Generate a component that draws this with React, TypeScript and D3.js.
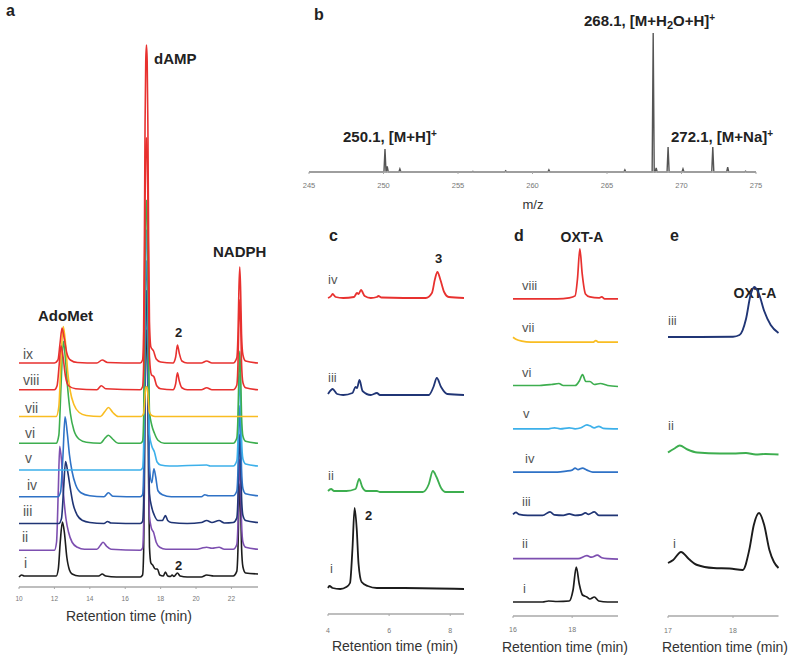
import React from 'react';
import * as d3 from 'd3';

type Pt = [number, number];

const FONT = "'Liberation Sans', Arial, Helvetica, sans-serif";

const C = {
  black: '#1c1c1c',
  purple: '#7d4fb0',
  navy: '#203575',
  blue: '#2f72c6',
  lblue: '#3cb0ea',
  green: '#3dae4f',
  yellow: '#f9bd22',
  red: '#e8312f',
};

// ---------- Panel a : HPLC traces i..ix ----------
const aTicks = [10, 12, 14, 16, 18, 20, 22];
const aLabels = ['i', 'ii', 'iii', 'iv', 'v', 'vi', 'vii', 'viii', 'ix'];
const aColors = [C.black, C.purple, C.navy, C.blue, C.lblue, C.green, C.yellow, C.red, C.red];

const aI: Pt[] = [[10,0],[10.15,2],[10.3,1],[12.1,1],[12.22,8],[12.33,35],[12.45,55],[12.56,45],[12.7,20],[12.85,7],[13.0,3],[13.4,1],[14.5,1],[14.7,3],[14.9,1],[15.5,0],[16.85,0],[16.98,2],[17.04,25],[17.08,86],[17.12,185],[17.16,235],[17.2,247],[17.24,235],[17.28,185],[17.32,99],[17.37,30],[17.45,14],[17.55,12],[17.7,8],[17.82,8],[17.95,2],[18.15,1],[18.27,5],[18.4,1],[18.55,0.5],[18.65,2],[18.75,0.5],[18.95,4],[19.1,1],[19.5,0],[20.3,0],[20.6,2],[21.0,1],[22.1,1],[22.3,5.6],[22.37,29],[22.42,70],[22.47,93],[22.52,70],[22.57,30],[22.65,10],[22.8,4],[23.5,3]];
const aII: Pt[] = [[10,0],[12.0,0],[12.12,8],[12.22,60],[12.3,104],[12.4,90],[12.52,55],[12.65,32],[12.8,18],[13.0,8],[13.3,3],[13.7,1],[14.4,1],[14.6,5],[14.75,8],[14.95,4],[15.2,1],[16.85,0],[16.98,2],[17.04,25],[17.08,87],[17.12,186],[17.16,236],[17.2,248],[17.24,236],[17.28,186],[17.32,99],[17.37,34],[17.48,22],[17.6,18],[17.75,8],[17.95,3],[18.3,1],[20.0,1],[20.3,2],[20.6,3],[20.9,2],[21.3,3],[21.6,1],[22.1,1],[22.3,5.5],[22.37,28],[22.42,68],[22.47,91],[22.52,68],[22.57,28],[22.65,8],[22.8,3],[23.5,1]];
const aIII: Pt[] = [[10,0],[12.25,0],[12.4,5],[12.52,35],[12.63,62],[12.75,52],[12.9,35],[13.05,20],[13.3,8],[13.6,3],[14.0,1],[14.8,0],[15.0,2],[15.2,0.5],[16.85,0],[16.98,2],[17.04,23],[17.08,82],[17.12,175],[17.16,221],[17.2,233],[17.24,221],[17.28,175],[17.32,93],[17.37,30],[17.5,16],[17.65,8],[17.85,3],[18.1,3],[18.27,8],[18.4,3],[18.6,1],[19.5,0],[20.3,1],[20.6,3],[20.9,1],[21.3,3],[21.6,0.5],[22.1,1],[22.3,5.4],[22.37,27],[22.42,67],[22.47,89],[22.52,67],[22.57,27],[22.65,8],[22.8,3],[23.5,1]];
const aIV: Pt[] = [[10,0],[12.2,0],[12.35,5],[12.48,40],[12.6,80],[12.72,65],[12.85,42],[13.0,25],[13.2,12],[13.5,4],[14.0,1],[14.8,0],[15.05,4],[15.3,0.5],[16.85,0],[16.98,2],[17.04,24],[17.08,83],[17.12,177],[17.16,224],[17.2,236],[17.24,224],[17.28,177],[17.32,94],[17.37,30],[17.5,14],[17.62,28],[17.72,20],[17.85,6],[18.1,2],[18.6,0],[20.3,0],[20.5,2],[20.7,1],[22.1,1],[22.3,5.5],[22.37,28],[22.42,68],[22.47,91],[22.52,68],[22.57,28],[22.65,8],[22.8,3],[23.5,1]];
const aV: Pt[] = [[10,0],[16.85,0],[16.98,2],[17.04,24],[17.08,84],[17.12,180],[17.16,228],[17.2,240],[17.24,228],[17.28,180],[17.32,96],[17.37,36],[17.5,24],[17.65,18],[17.8,8],[18.0,5],[18.5,4],[20.6,5],[20.8,4],[22.1,4],[22.3,9],[22.37,32],[22.42,73],[22.47,96],[22.52,73],[22.57,32],[22.65,11],[22.8,6],[23.5,4]];
const aVI: Pt[] = [[10,0],[12.1,0],[12.25,8],[12.38,60],[12.5,102],[12.62,85],[12.75,55],[12.9,30],[13.1,13],[13.4,4],[13.8,1],[14.6,0],[14.85,5],[15.05,8],[15.3,4],[15.6,0],[16.85,0],[16.98,2],[17.04,24],[17.08,85],[17.12,182],[17.16,231],[17.2,243],[17.24,231],[17.28,182],[17.32,97],[17.37,32],[17.5,18],[17.65,10],[17.85,3],[18.2,0],[22.1,0],[22.3,5],[22.37,28],[22.42,69],[22.47,92],[22.52,69],[22.57,28],[22.65,7],[22.8,2],[23.5,0]];
const aVII: Pt[] = [[10,0],[12.1,0],[12.25,10],[12.38,60],[12.5,90],[12.62,75],[12.75,45],[12.9,25],[13.1,12],[13.4,4],[13.8,1],[14.6,0],[14.85,5],[15.05,9],[15.3,4],[15.6,0],[16.9,0],[17.04,3],[17.08,10],[17.12,22],[17.16,28.5],[17.2,30],[17.24,28.5],[17.28,22],[17.32,12],[17.37,4],[17.5,1],[17.7,0],[23.5,0]];
const aVIII: Pt[] = [[10,0],[12.0,0],[12.15,4],[12.27,25],[12.37,44],[12.48,34],[12.62,14],[12.8,4],[13.2,1],[14.4,0],[14.65,4],[14.9,1],[16.85,0],[16.98,3],[17.04,25],[17.08,88],[17.12,189],[17.16,239],[17.2,252],[17.24,239],[17.28,189],[17.32,101],[17.37,33],[17.48,15],[17.62,13],[17.78,4],[18.0,1],[18.7,0],[18.85,6],[18.95,17],[19.05,9],[19.2,2],[19.5,0],[20.3,0],[20.6,2],[20.9,0],[22.1,0],[22.3,4.5],[22.37,27],[22.42,68],[22.47,90],[22.52,68],[22.57,27],[22.65,7],[22.8,2],[23.5,0]];
const aIX: Pt[] = [[10,0],[12.0,0],[12.2,3],[12.32,20],[12.43,35],[12.55,25],[12.7,10],[12.9,3],[13.3,0.5],[14.4,0],[14.7,3],[15.0,0.5],[16.85,0],[16.98,3],[17.04,32],[17.08,111],[17.12,238],[17.16,302],[17.2,318],[17.24,302],[17.28,238],[17.32,127],[17.37,41],[17.45,16],[17.6,12],[17.75,4],[18.0,1],[18.7,0],[18.85,6],[18.95,18],[19.05,10],[19.2,2],[19.5,0],[20.3,0],[20.6,2],[20.9,0],[22.1,0],[22.3,5],[22.37,29],[22.42,72],[22.47,96],[22.52,72],[22.57,29],[22.65,8],[22.8,2],[23.5,0]];
const aTraces: Pt[][] = [aI, aII, aIII, aIV, aV, aVI, aVII, aVIII, aIX];

// ---------- Panel b : mass spectrum ----------
const bTicks = [245, 250, 255, 260, 265, 270, 275];
const bMz = [250.1, 250.25, 251.1, 256.0, 258.2, 261.1, 266.2, 268.1, 268.3, 269.1, 270.1, 272.1, 273.1, 274.3];
const bInt = [16.5, 4, 2.2, 0.5, 0.8, 1.5, 1.5, 100, 3, 18, 2.2, 18, 3.5, 0.6];

// ---------- Panel c ----------
const cTicks = [4, 6, 8];
const cLabels = ['i', 'ii', 'iii', 'iv'];
const cColors = [C.black, C.green, C.navy, C.red];
const cI: Pt[] = [[4.0,1],[4.05,3],[4.15,1],[4.4,0],[4.6,2],[4.72,6],[4.8,40],[4.87,81],[4.94,60],[5.0,25],[5.1,7],[5.3,3],[5.6,1],[6.5,1],[8.45,0]];
const cII: Pt[] = [[4.0,1],[4.1,3],[4.2,1],[4.6,1],[4.9,3],[5.02,13],[5.12,5],[5.25,1],[5.6,1],[5.7,0],[7.1,0],[7.3,8],[7.43,21],[7.55,15],[7.7,4],[7.85,0],[8.45,0]];
const cIII: Pt[] = [[4.0,1],[4.1,5],[4.15,6],[4.3,1],[4.5,0],[4.8,2],[4.9,8],[4.95,7],[5.03,15],[5.13,4],[5.4,0],[5.6,2],[5.7,0],[7.3,0],[7.45,8],[7.56,17],[7.7,8],[7.9,1],[8.45,0]];
const cIV: Pt[] = [[4.0,0],[4.1,2],[4.15,4],[4.25,1],[4.5,0],[4.85,1],[4.95,5],[5.0,4],[5.08,8],[5.2,2],[5.4,0],[5.6,1],[5.65,2],[5.75,0.5],[7.2,0],[7.4,5],[7.5,19],[7.58,26],[7.68,18],[7.8,6],[7.95,1],[8.45,0]];
const cTraces: Pt[][] = [cI, cII, cIII, cIV];

// ---------- Panel d ----------
const dTicks = [16, 18];
const dLabels = ['i', 'ii', 'iii', 'iv', 'v', 'vi', 'vii', 'viii'];
const dColors = [C.black, C.purple, C.navy, C.blue, C.lblue, C.green, C.yellow, C.red];
const dI: Pt[] = [[16,0],[17.0,0],[17.2,1],[17.5,0.5],[17.9,1],[18.03,12],[18.14,35],[18.24,18],[18.35,7],[18.5,5],[18.6,3],[18.75,5],[18.9,1],[19.2,0],[19.55,0]];
const dII: Pt[] = [[16,0],[18.2,0],[18.5,3],[18.65,1.5],[18.85,3.5],[19.0,1],[19.2,0],[19.55,-0.5]];
const dIII: Pt[] = [[16,1],[16.1,3],[16.2,1],[16.5,0],[17.0,0],[17.25,3.5],[17.4,0.5],[17.7,0],[17.9,1.5],[18.1,0],[18.3,0.5],[18.45,2.5],[18.55,1],[18.75,3.5],[18.9,0],[19.55,0]];
const dIV: Pt[] = [[16,0],[17.5,0],[17.8,1],[18.0,2],[18.1,4],[18.2,2.5],[18.35,4],[18.5,2],[18.7,0],[19.55,0]];
const dV: Pt[] = [[16,0],[17.2,0],[17.4,1],[17.6,0],[17.9,1],[18.1,0],[18.3,1],[18.5,4],[18.6,3],[18.75,1],[18.9,2.5],[19.05,0.5],[19.55,0]];
const dVI: Pt[] = [[16,0],[16.9,0],[17.3,1],[17.55,2],[17.7,0],[18.1,0],[18.25,5],[18.35,11],[18.46,4],[18.6,4],[18.75,1],[18.95,2],[19.2,0],[19.55,-1]];
const dVII: Pt[] = [[16,5],[16.1,3],[16.3,1],[16.6,0],[18.7,0],[18.8,1.5],[18.9,0],[19.55,0]];
const dVIII: Pt[] = [[16,0],[17.5,0],[17.9,1],[18.1,3],[18.18,20],[18.26,50],[18.34,25],[18.45,5],[18.6,2],[18.9,1],[19.0,2],[19.1,0],[19.55,0]];
const dTraces: Pt[][] = [dI, dII, dIII, dIV, dV, dVI, dVII, dVIII];

// ---------- Panel e ----------
const eTicks = [17, 18];
const eLabels = ['i', 'ii', 'iii'];
const eColors = [C.black, C.green, C.navy];
const eI: Pt[] = [[17,7],[17.08,10],[17.2,18],[17.32,11],[17.45,5],[17.7,2],[17.95,1.5],[18.15,0],[18.25,20],[18.32,45],[18.4,57],[18.48,45],[18.56,20],[18.63,8],[18.7,2]];
const eII: Pt[] = [[17,1],[17.1,5],[17.18,8],[17.3,4],[17.45,1],[17.8,0],[18.0,0],[18.2,0.5],[18.35,-1],[18.5,-0.5],[18.7,-1]];
const eIII: Pt[] = [[17,0],[17.5,0],[18.0,0.3],[18.1,2],[18.2,18],[18.27,42],[18.33,50],[18.4,43],[18.48,26],[18.58,12],[18.7,4]];
const eTraces: Pt[][] = [eI, eII, eIII];

const AXIS_COLOR = '#a8a8a8';
const TICK_COLOR = '#777';
const LABEL_COLOR = '#555';

type AxisProps = { x: d3.ScaleLinear<number, number>; y0: number; ticks: number[]; tickY: number; fs?: number };
function Axis({ x, y0, ticks, tickY, fs = 7 }: AxisProps) {
  const [r0, r1] = x.range();
  return (
    <g>
      <line x1={r0} x2={r1} y1={y0} y2={y0} stroke={AXIS_COLOR} strokeWidth={1.5} />
      {ticks.map((t) => (
        <g key={t}>
          <line x1={x(t)} x2={x(t)} y1={y0} y2={y0 + 2} stroke={AXIS_COLOR} strokeWidth={1} />
          <text x={x(t)} y={tickY} fontSize={fs} fill={TICK_COLOR} textAnchor="middle" fontFamily={FONT}>{t}</text>
        </g>
      ))}
    </g>
  );
}

function Traces({ traces, colors, x, y, step, width, redLast = false }: { traces: Pt[][]; colors: string[]; x: any; y: any; step: number; width: number; redLast?: boolean }) {
  const idx = traces.map((_, i) => i);
  const order = redLast ? idx : idx.reverse();
  return (
    <g>
      {order.map((i) => {
        const line = d3.line<Pt>().x((d) => x(d[0])).y((d) => y(d[1] + i * step)).curve(d3.curveMonotoneX);
        return <path key={i} d={line(traces[i]) || ''} fill="none" stroke={colors[i]} strokeWidth={width} strokeLinejoin="round" />;
      })}
    </g>
  );
}

export default function App() {
  const xa = d3.scaleLinear().domain([10, 23.5]).range([19, 258]);
  const ya = d3.scaleLinear().domain([0, 100]).range([577, 477]);
  const xb = d3.scaleLinear().domain([245, 275]).range([309, 756]);
  const yb = d3.scaleLinear().domain([0, 100]).range([172, 33]);
  const xc = d3.scaleLinear().domain([4, 8.45]).range([328, 464]);
  const yc = d3.scaleLinear().domain([0, 100]).range([589, 489]);
  const xd = d3.scaleLinear().domain([16, 19.55]).range([513, 618]);
  const yd = d3.scaleLinear().domain([0, 100]).range([602, 502]);
  const xe = d3.scaleLinear().domain([17, 18.7]).range([668, 778.5]);
  const ye = d3.scaleLinear().domain([0, 100]).range([570, 470]);

  const aStep = 26.75;
  const cStep = 97;
  const dStep = 43.3;
  const eStep = 116.5;

  const order = bMz.map((_, i) => i).sort((p, q) => bMz[p] - bMz[q]);
  const specPts: Pt[] = [[245, 0]];
  order.forEach((i) => {
    specPts.push([bMz[i] - 0.07, 0], [bMz[i], bInt[i]], [bMz[i] + 0.07, 0]);
  });
  specPts.push([275, 0]);
  const specLine = d3.line<Pt>().x((d) => xb(d[0])).y((d) => yb(d[1]));

  const aLabelPos: Pt[] = [[24, 568], [22, 542], [23, 516], [27, 490], [25, 463], [25, 438], [25, 413], [23, 385], [23, 359]];
  const cLabelPos: Pt[] = [[330, 573], [328, 480], [328, 382], [328, 284]];
  const dLabelPos: Pt[] = [[523, 593], [522, 548], [522, 506], [525, 463], [523, 418], [522, 377], [522, 332], [522, 290]];
  const ePos: Pt[] = [[673, 548], [668, 430], [668, 325]];

  const boldLab = { fontFamily: FONT, fontWeight: 700, fill: '#222' } as const;
  const roman = { fontFamily: FONT, fill: LABEL_COLOR } as const;

  return (
    <svg width={800} height={662} style={{ position: 'absolute', left: 0, top: 0, background: '#fff' }}>
      <rect width={800} height={662} fill="#fff" />
      {/* ---- Panel a ---- */}
      <text x={6} y={16} fontSize={16} {...boldLab}>a</text>
      <Traces traces={aTraces} colors={aColors} x={xa} y={ya} step={aStep} width={1.6} redLast />
      {aLabels.map((l, i) => (
        <text key={l} x={aLabelPos[i][0]} y={aLabelPos[i][1]} fontSize={14} {...roman}>{l}</text>
      ))}
      <text x={38} y={321} fontSize={15} {...boldLab}>AdoMet</text>
      <text x={154} y={64} fontSize={15} {...boldLab}>dAMP</text>
      <text x={213} y={257} fontSize={15} {...boldLab}>NADPH</text>
      <text x={175} y={337} fontSize={13} {...boldLab}>2</text>
      <text x={175} y={570} fontSize={13} {...boldLab}>2</text>
      <Axis x={xa} y0={587} ticks={aTicks} tickY={601} fs={6.5} />
      <text x={129} y={621} fontSize={14} fill="#333" textAnchor="middle" fontFamily={FONT}>Retention time (min)</text>

      {/* ---- Panel b ---- */}
      <text x={314} y={20} fontSize={16} {...boldLab}>b</text>
      <path d={specLine(specPts) || ''} fill="none" stroke="#555" strokeWidth={1.4} />
      <Axis x={xb} y0={172} ticks={bTicks} tickY={188} fs={7.5} />
      <text x={533} y={209} fontSize={13} fill="#333" textAnchor="middle" fontFamily={FONT}>m/z</text>
      <text x={584} y={26} fontSize={15} {...boldLab}>
        268.1, [M+H<tspan fontSize={11} baselineShift="-3">2</tspan>O+H]<tspan fontSize={10} baselineShift="5">+</tspan>
      </text>
      <text x={343} y={142} fontSize={15} {...boldLab}>
        250.1, [M+H]<tspan fontSize={10} baselineShift="5">+</tspan>
      </text>
      <text x={671} y={142} fontSize={15} {...boldLab}>
        272.1, [M+Na]<tspan fontSize={10} baselineShift="5">+</tspan>
      </text>

      {/* ---- Panel c ---- */}
      <text x={329} y={241} fontSize={16} {...boldLab}>c</text>
      <Traces traces={cTraces} colors={cColors} x={xc} y={yc} step={cStep} width={1.8} />
      {cLabels.map((l, i) => (
        <text key={l} x={cLabelPos[i][0]} y={cLabelPos[i][1]} fontSize={13} {...roman}>{l}</text>
      ))}
      <text x={435} y={263} fontSize={13} {...boldLab}>3</text>
      <text x={365} y={520} fontSize={13} {...boldLab}>2</text>
      <Axis x={xc} y0={614} ticks={cTicks} tickY={633} fs={7} />
      <text x={395} y={651} fontSize={14} fill="#333" textAnchor="middle" fontFamily={FONT}>Retention time (min)</text>

      {/* ---- Panel d ---- */}
      <text x={514} y={241} fontSize={16} {...boldLab}>d</text>
      <text x={582} y={242} fontSize={14} textAnchor="middle" {...boldLab}>OXT-A</text>
      <Traces traces={dTraces} colors={dColors} x={xd} y={yd} step={dStep} width={1.7} />
      {dLabels.map((l, i) => (
        <text key={l} x={dLabelPos[i][0]} y={dLabelPos[i][1]} fontSize={13} {...roman}>{l}</text>
      ))}
      <Axis x={xd} y0={616} ticks={dTicks} tickY={632} fs={7} />
      <text x={565} y={652} fontSize={14} fill="#333" textAnchor="middle" fontFamily={FONT}>Retention time (min)</text>

      {/* ---- Panel e ---- */}
      <text x={670} y={241} fontSize={16} {...boldLab}>e</text>
      <text x={755} y={298} fontSize={14} textAnchor="middle" {...boldLab}>OXT-A</text>
      <Traces traces={eTraces} colors={eColors} x={xe} y={ye} step={eStep} width={1.9} />
      {eLabels.map((l, i) => (
        <text key={l} x={ePos[i][0]} y={ePos[i][1]} fontSize={13} {...roman}>{l}</text>
      ))}
      <Axis x={xe} y0={616} ticks={eTicks} tickY={633} fs={7} />
      <text x={725} y={652} fontSize={14} fill="#333" textAnchor="middle" fontFamily={FONT}>Retention time (min)</text>
    </svg>
  );
}
